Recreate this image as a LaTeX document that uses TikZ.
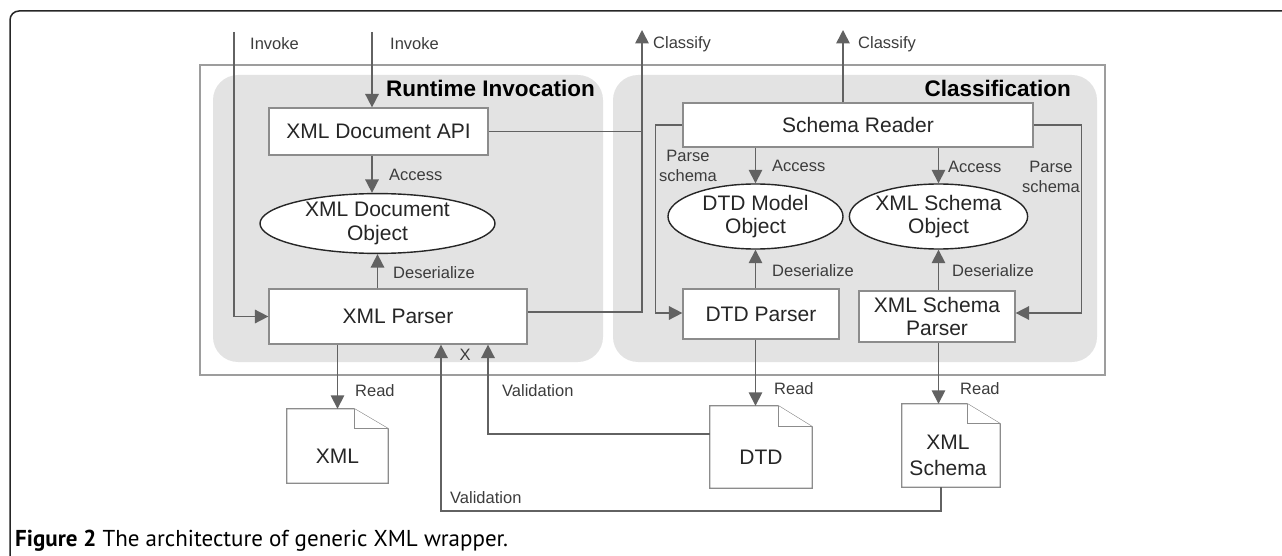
\documentclass[tikz,border=0pt]{standalone}
\usepackage{fontspec}
\setmainfont{Liberation Sans}
\newfontfamily\capfont{PT Sans}
\usetikzlibrary{arrows.meta,shapes.geometric,calc}
\pgfdeclarelayer{bg}
\pgfsetlayers{bg,main}
\definecolor{panelgray}{HTML}{E3E3E3}
\definecolor{linegray}{HTML}{626262}
\definecolor{boxgray}{HTML}{8C8C8C}
\definecolor{labelgray}{HTML}{3C3C3C}

\tikzset{
  boxnode/.style={draw=boxgray, line width=1.2pt, fill=white, inner sep=0pt,
    align=center, font=\fontsize{21}{23}\selectfont, text=black!85},
  ellnode/.style={ellipse, draw=black!85, line width=1.4pt, fill=white,
    inner sep=0pt, align=center, font=\fontsize{21}{23.5}\selectfont, text=black!85},
  docnode/.style={inner sep=0pt},
  doctext/.style={inner sep=0pt, align=center, font=\fontsize{21}{26}\selectfont, text=black!85},
  docline/.style={draw=boxgray, line width=1.2pt, fill=white},
  conn/.style={draw=linegray, line width=1.6pt},
  arr/.style={conn, -{Triangle[length=13.5pt,width=13.5pt]}},
  lbl/.style={inner sep=0pt, font=\fontsize{16.5}{20.5}\selectfont, text=labelgray},
  titlelbl/.style={inner sep=0pt, font=\bfseries\fontsize{22.5}{26}\selectfont},
  panel/.style={fill=panelgray, rounded corners=25pt},
}

% folded-corner document outline around a named node
\newcommand\drawdoc[3]{%
  \draw[docline] (#1.north west) -- ([xshift=-#2pt]#1.north east)
    -- ([yshift=-#3pt]#1.north east) -- (#1.south east) -- (#1.south west) -- cycle;
  \draw[docline] ([xshift=-#2pt]#1.north east) |- ([yshift=-#3pt]#1.north east);}

\begin{document}
\begin{tikzpicture}[x=1pt,y=-1pt]
\useasboundingbox (0,0) rectangle (1282,556);
\clip (0,0) rectangle (1282,556);

% outer figure frame
\draw[black!85, line width=1.5pt, rounded corners=9pt] (10,11) rectangle (1300,580);

% component container and the two shaded groups
\begin{pgfonlayer}{bg}
  \fill[panel] (213,75) rectangle (603,362);
  \fill[panel] (613,75) rectangle (1097,362);
\end{pgfonlayer}
\draw[draw=boxgray!85, line width=1.2pt] (200,65) rectangle (1105,375);

\node[titlelbl, anchor=east] (ttlrun) at (595,88) {Runtime Invocation};
\node[titlelbl, anchor=east] (ttlcls) at (1071,88) {Classification};

% runtime invocation side
\node[boxnode, minimum width=219pt, minimum height=47pt] (api) at (378.5,131.5) {XML Document API};
\node[ellnode, minimum width=235pt, minimum height=59pt] (xdo) at (377.5,223.5) {XML Document\\Object};
\node[boxnode, minimum width=258pt, minimum height=55pt] (parser) at (398,316.5) {XML Parser};

% classification side
\node[boxnode, minimum width=350pt, minimum height=44pt] (sr) at (858,125) {Schema Reader};
\node[ellnode, minimum width=175pt, minimum height=65pt] (dtdm) at (755.5,216.5) {DTD Model\\Object};
\node[ellnode, minimum width=177pt, minimum height=65pt] (xsm) at (938.5,216.5) {XML Schema\\Object};
\node[boxnode, minimum width=156pt, minimum height=50pt] (dtdp) at (761,314) {DTD Parser};
\node[boxnode, minimum width=156pt, minimum height=51pt] (xsp) at (937,316.5) {XML Schema\\Parser};

% documents
\node[docnode, minimum width=101pt, minimum height=74pt] (xmlf) at (337.5,446) {};
\node[docnode, minimum width=102pt, minimum height=82pt] (dtdf) at (761,447) {};
\node[docnode, minimum width=98pt, minimum height=83pt] (xsf) at (951,445.5) {};
\drawdoc{xmlf}{34}{20}
\drawdoc{dtdf}{34}{21}
\drawdoc{xsf}{33}{20}
\node[doctext] (xmlft) at ([yshift=-10pt]xmlf.center) {XML};
\node[doctext] (dtdft) at ([yshift=-10pt]dtdf.center) {DTD};
\node[doctext] (xsft) at ([xshift=-3pt,yshift=-9.5pt]xsf.center) {XML\\Schema};

% free ends of the external connectors
\coordinate (inv1) at (234,32);
\coordinate (inv2) at (372,32);
\coordinate (cls1) at (642,30);
\coordinate (cls2) at (843,30);

% invocation
\draw[arr] (inv1) |- (parser.west);
\draw[arr] (inv2) -- (inv2 |- api.north);
\draw[arr] (api.south -| inv2) -- (inv2 |- xdo.north);
\draw[arr] (parser.north -| xdo.south) -- (xdo.south);

% classification outputs
\draw[conn] (api.east) -- (api.east -| cls1);
\draw[arr] ([yshift=4.5pt]parser.east) -| (cls1);
\draw[arr] (sr.north -| cls2) -- (cls2);

% schema reader
\draw[arr] (sr.west) -- ++(-27,0) |- ([yshift=1pt]dtdp.west);
\draw[arr] (sr.east) -- ++(48,0) |- ([yshift=3.5pt]xsp.east);
\draw[arr] (sr.south -| dtdm.north) -- (dtdm.north);
\draw[arr] (sr.south -| xsm.north) -- (xsm.north);
\draw[arr] (dtdp.north -| dtdm.south) -- (dtdm.south);
\draw[arr] (xsp.north -| xsm.south) -- (xsm.south);

% reading the documents
\draw[arr] (parser.south -| xmlf.north) -- (xmlf.north);
\draw[arr] (dtdp.south -| dtdm.south) -- (dtdm.south |- dtdf.north);
\draw[arr] (xsp.south -| xsm.south) -- (xsm.south |- xsf.north);

% validation
\draw[arr] ([yshift=13pt]dtdf.west) -| ([xshift=90pt]parser.south);
\draw[arr] ([xshift=-10pt]xsf.south) -- ++(0,24) -| ([xshift=43pt]parser.south);

% connector labels
\node[lbl, anchor=west] (lInv1) at (250,44) {Invoke};
\node[lbl, anchor=west] (lInv2) at (390,44) {Invoke};
\node[lbl, anchor=west] (lCls1) at (653,44) {Classify};
\node[lbl, anchor=west] (lCls2) at (858,44) {Classify};
\node[lbl, anchor=west] (lAcc1) at (389,175) {Access};
\node[lbl, anchor=west] (lDes1) at (393,273) {Deserialize};
\node[lbl, align=center] (lPs1) at (688,166) {Parse\\schema};
\node[lbl, anchor=west] (lAcc2) at (772,166) {Access};
\node[lbl, anchor=west] (lAcc3) at (948,167) {Access};
\node[lbl, align=center] (lPs2) at (1051,177) {Parse\\schema};
\node[lbl, anchor=west] (lDes2) at (772,271) {Deserialize};
\node[lbl, anchor=west] (lDes3) at (952,271) {Deserialize};
\node[lbl] (lX) at (465,355) {X};
\node[lbl, anchor=west] (lRd1) at (355,391) {Read};
\node[lbl, anchor=west] (lRd2) at (774,389) {Read};
\node[lbl, anchor=west] (lRd3) at (960,389) {Read};
\node[lbl, anchor=west] (lVal1) at (502,391) {Validation};
\node[lbl, anchor=west] (lVal2) at (450,498) {Validation};

% caption
\node[anchor=base west, inner sep=0pt, font=\capfont\fontsize{23}{26}\selectfont] (cap)
  at (15,546) {\textbf{Figure 2} The architecture of generic XML wrapper.};
\end{tikzpicture}
\end{document}
